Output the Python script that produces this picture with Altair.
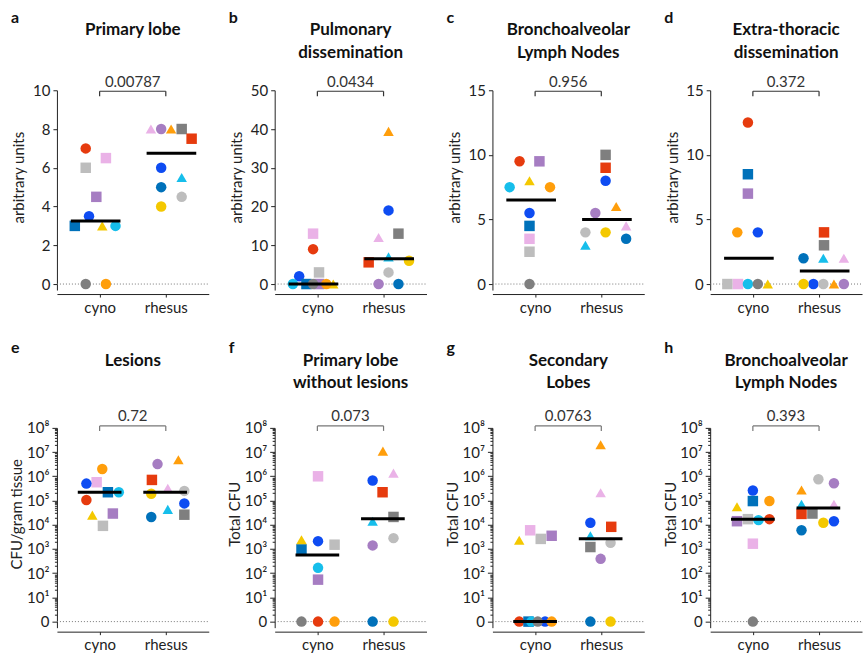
import altair as alt
import pandas as pd

FONT = "Lato"

# ---------------- animals (colour / shape) ----------------
CYNO_ANIMALS = ["red", "lgray", "pink", "purple", "blue", "dblue", "yellow", "cyan", "gray", "orange"]
CYNO_SHAPES = ["circle", "square", "square", "square", "circle", "square", "triangle-up", "circle", "circle", "circle"]
RHESUS_ANIMALS = ["pink", "purple", "orange", "gray", "red", "blue", "dblue", "cyan", "lgray", "yellow"]
RHESUS_SHAPES = ["triangle-up", "circle", "triangle-up", "square", "square", "circle", "circle", "triangle-up", "circle", "circle"]

COLOR_NAMES = ["red", "orange", "yellow", "lgray", "gray", "pink", "purple", "blue", "dblue", "cyan"]
COLOR_HEX = ["#E63B0E", "#FF9E0B", "#F4C800", "#BDBDBD", "#7F7F7F", "#EAB2E7", "#A67DC2", "#0E4CF2", "#0071BA", "#16BEEB"]

# ---------------- panel texts ----------------
PANEL_LETTERS = ["a", "b", "c", "d", "e", "f", "g", "h"]
PANEL_TITLES = [["Primary lobe"], ["Pulmonary", "dissemination"], ["Bronchoalveolar", "Lymph Nodes"],
                ["Extra-thoracic", "dissemination"], ["Lesions"], ["Primary lobe", "without lesions"],
                ["Secondary", "Lobes"], ["Bronchoalveolar", "Lymph Nodes"]]
Y_TITLES = ["arbitrary units"] * 4 + ["CFU/gram tissue", "Total CFU", "Total CFU", "Total CFU"]
P_VALUES = ["0.00787", "0.0434", "0.956", "0.372", "0.72", "0.073", "0.0763", "0.393"]
GROUP_LABELS = ["cyno", "rhesus"]
Y_MAX_TOP = [10, 50, 15, 15]
Y_TICKS_TOP = [[0, 2, 4, 6, 8, 10], [0, 10, 20, 30, 40, 50], [0, 5, 10, 15], [0, 5, 10, 15]]
LOG_TICK_LABELS = ["0", "10¹", "10²", "10³", "10⁴", "10⁵", "10⁶", "10⁷", "10⁸"]

# ---------------- values (cyno order / rhesus order as above) ----------------
A_CYNO_VAL = [7, 6, 6.5, 4.5, 3.5, 3, 3, 3, 0, 0]
A_CYNO_OFF = [-0.21, -0.21, 0.095, -0.05, -0.16, -0.375, 0.04, 0.24, -0.21, 0.095]
A_RHESUS_VAL = [8, 8, 8, 8, 7.5, 6, 5, 5.5, 4.5, 4]
A_RHESUS_OFF = [-0.225, -0.07, 0.08, 0.24, 0.39, -0.07, -0.07, 0.24, 0.24, -0.07]

B_CYNO_VAL = [9, 3, 13, 0, 2, 0, 0, 0, 0, 0]
B_CYNO_OFF = [-0.065, 0.025, -0.065, 0.025, -0.275, -0.165, 0.24, -0.37, -0.065, 0.135]
B_RHESUS_VAL = [12, 0, 39.4, 13, 5.6, 19, 0, 7, 3, 6]
B_RHESUS_OFF = [-0.075, -0.075, 0.075, 0.225, -0.225, 0.075, 0.225, 0.075, 0.075, 0.385]

C_CYNO_VAL = [9.5, 2.5, 3.5, 9.5, 5.5, 4.5, 8, 7.5, 0, 7.5]
C_CYNO_OFF = [-0.235, -0.085, -0.085, 0.065, -0.085, -0.085, -0.085, -0.385, -0.085, 0.225]
C_RHESUS_VAL = [4.5, 5.5, 6, 10, 9, 8, 3.5, 3, 4, 4]
C_RHESUS_OFF = [0.375, -0.09, 0.225, 0.065, 0.065, 0.065, 0.375, -0.24, -0.24, 0.065]

D_CYNO_VAL = [12.5, 0, 0, 7, 4, 8.5, 0, 0, 0, 4]
D_CYNO_OFF = [-0.075, -0.385, -0.225, -0.075, 0.075, -0.075, 0.225, -0.075, 0.075, -0.235]
D_RHESUS_VAL = [2, 0, 0, 3, 4, 0, 2, 2, 0, 0]
D_RHESUS_OFF = [0.375, 0.375, 0.225, 0.075, 0.075, -0.085, -0.235, 0.065, 0.065, -0.235]

E_CYNO_VAL = [1.05e5, 9e3, 5.7e5, 2.9e4, 5e5, 2.2e5, 2.5e4, 2.2e5, None, 2e6]
E_CYNO_OFF = [-0.2, 0.05, -0.045, 0.2, -0.2, 0.125, -0.11, 0.29, 0.0, 0.04]
E_RHESUS_VAL = [3.2e5, 3.2e6, 4.8e6, 2.6e4, 7.1e5, 7.6e4, 2.1e4, 4.3e4, 2.5e5, 1.9e5]
E_RHESUS_OFF = [0.03, -0.125, 0.19, 0.28, -0.21, 0.28, -0.22, 0.03, 0.28, -0.22]

F_CYNO_VAL = [0, 1.5e3, 1e6, 54, 2.1e3, 960, 2.4e3, 166, 0, 0]
F_CYNO_OFF = [0.01, 0.26, 0.01, 0.01, 0.01, -0.24, -0.24, 0.01, -0.24, 0.26]
F_RHESUS_VAL = [1.35e6, 1.4e3, 1.1e7, 2.1e4, 2.2e5, 6.7e5, 0, 1.4e4, 2.8e3, 0]
F_RHESUS_OFF = [0.15, -0.165, -0.01, 0.15, -0.015, -0.165, -0.165, -0.165, 0.15, 0.15]

G_CYNO_VAL = [0, 2.6e3, 5.9e3, 3.5e3, 0, 0, 2.3e3, 0, 0, 0]
G_CYNO_OFF = [-0.24, 0.085, -0.075, 0.25, 0.15, -0.1, -0.24, -0.055, 0.04, 0.25]
G_RHESUS_VAL = [2.1e5, 390, 2e7, 1.2e3, 8.2e3, 1.2e4, 0, 3.5e3, 1.8e3, 0]
G_RHESUS_OFF = [-0.01, -0.01, -0.01, -0.165, 0.15, -0.165, -0.165, -0.165, 0.14, 0.14]

H_CYNO_VAL = [1.7e4, 1.7e4, 1.65e3, 1.4e4, 2.6e5, 9.5e4, 5.5e4, 1.55e4, 0, 9.5e4]
H_CYNO_OFF = [0.25, -0.075, 0.0, -0.24, 0.0, 0.0, -0.24, 0.085, 0.0, 0.25]
H_RHESUS_VAL = [7e4, 5.2e5, 2.7e5, 2.9e4, 2.8e4, 1.4e4, 5.9e3, 7e4, 7.6e5, 1.2e4]
H_RHESUS_OFF = [0.225, 0.225, -0.265, -0.1, -0.265, 0.225, -0.265, -0.265, -0.01, 0.065]

PANELS = [
    (A_CYNO_VAL, A_CYNO_OFF, A_RHESUS_VAL, A_RHESUS_OFF),
    (B_CYNO_VAL, B_CYNO_OFF, B_RHESUS_VAL, B_RHESUS_OFF),
    (C_CYNO_VAL, C_CYNO_OFF, C_RHESUS_VAL, C_RHESUS_OFF),
    (D_CYNO_VAL, D_CYNO_OFF, D_RHESUS_VAL, D_RHESUS_OFF),
    (E_CYNO_VAL, E_CYNO_OFF, E_RHESUS_VAL, E_RHESUS_OFF),
    (F_CYNO_VAL, F_CYNO_OFF, F_RHESUS_VAL, F_RHESUS_OFF),
    (G_CYNO_VAL, G_CYNO_OFF, G_RHESUS_VAL, G_RHESUS_OFF),
    (H_CYNO_VAL, H_CYNO_OFF, H_RHESUS_VAL, H_RHESUS_OFF),
]

# ---------------- layout ----------------
W, H = 152, 200
HSPACE, VSPACE = 66, 138
X_DOMAIN = [0.355, 2.649]
AX = "#222222"


def panel_df(vals):
    cv, co, rv, ro = vals
    rows = []
    for a, s, v, o in zip(CYNO_ANIMALS, CYNO_SHAPES, cv, co):
        if v is not None:
            rows.append({"grp": 1, "animal": a, "shape": s, "value": v, "off": o})
    for a, s, v, o in zip(RHESUS_ANIMALS, RHESUS_SHAPES, rv, ro):
        if v is not None:
            rows.append({"grp": 2, "animal": a, "shape": s, "value": v, "off": o})
    return pd.DataFrame(rows)


def make_panel(i):
    is_log = i >= 4
    df = panel_df(PANELS[i])
    xscale = alt.Scale(domain=X_DOMAIN, nice=False, zero=False)
    xaxis = alt.Axis(values=[1, 2], labelExpr=f"datum.value == 1 ? '{GROUP_LABELS[0]}' : '{GROUP_LABELS[1]}'",
                     title=None, offset=4, tickSize=3, domainColor=AX, tickColor=AX, labelColor=AX,
                     labelFontSize=15, labelPadding=3, grid=False, labelFont=FONT)
    if is_log:
        yscale = alt.Scale(type="log", domain=[10 ** -0.25, 1e8], nice=False)
        majors = [10 ** k for k in range(0, 9)]
        minors = [m * 10 ** k for k in range(0, 8) for m in range(2, 10)]
        expr = " : ".join(f"datum.value == {v} ? '{lab}'" for v, lab in zip(majors, LOG_TICK_LABELS)) + " : ''"
        test = "indexof([" + ",".join(str(v) for v in majors) + "], datum.value) >= 0"
        yaxis = alt.Axis(values=majors + minors, labelExpr=expr, labelOverlap=False,
                         tickSize={"condition": {"test": test, "value": 5}, "value": 2.5},
                         title=Y_TITLES[i], titleX=-40, titleY=86, titleAngle=270, titleAlign="center",
                         titleBaseline="middle", titleFontSize=15, titleFontWeight="normal", titleColor=AX,
                         titleFont=FONT, labelFontSize=15, labelPadding=3, labelColor=AX, labelFont=FONT,
                         grid=False, domainColor=AX, tickColor=AX)
        yexpr = "max(datum.value, 1)"
        zero_val = 1
        c_shift, r_shift, half = 0.0, -0.01, 0.33
        br_y, tx_y = -2, -7
        br_col = "#777777"
        let_y, t1_y, t2_y = -75, -62, -40
    else:
        ymax = Y_MAX_TOP[i]
        yscale = alt.Scale(domain=[-0.031 * ymax, ymax], nice=False, zero=False)
        yaxis = alt.Axis(values=Y_TICKS_TOP[i], tickSize=4,
                         title=Y_TITLES[i], titleX=-38, titleY=87, titleAngle=270, titleAlign="center",
                         titleBaseline="middle", titleFontSize=15, titleFontWeight="normal", titleColor=AX,
                         titleFont=FONT, labelFontSize=15, labelPadding=3, labelColor=AX, labelFont=FONT,
                         grid=False, domainColor=AX, tickColor=AX)
        yexpr = "datum.value"
        zero_val = 0
        c_shift, r_shift, half = -0.06, 0.085, 0.375
        br_y, tx_y = 1, -3
        br_col = "#333333"
        let_y, t1_y, t2_y = -67, -55, -32

    base = alt.Chart(df)

    zero = alt.Chart(pd.DataFrame({"z": [zero_val]})).mark_rule(
        color="#777777", strokeDash=[1, 2], strokeWidth=1
    ).encode(y=alt.Y("z:Q", scale=yscale, axis=yaxis), x=alt.value(0), x2=alt.value(W))

    pts = base.transform_calculate(
        xpos="datum.grp + datum.off", ypos=yexpr
    ).mark_point(filled=True, opacity=1, size=110, strokeWidth=0).encode(
        x=alt.X("xpos:Q", scale=xscale, axis=xaxis),
        y=alt.Y("ypos:Q", scale=yscale, axis=yaxis),
        color=alt.Color("animal:N", scale=alt.Scale(domain=COLOR_NAMES, range=COLOR_HEX), legend=None),
        shape=alt.Shape("shape:N", scale=None),
    )

    med = base.transform_aggregate(
        med="median(value)", groupby=["grp"]
    ).transform_calculate(
        mx1=f"datum.grp + (datum.grp == 1 ? {c_shift} : {r_shift}) - {half}",
        mx2=f"datum.grp + (datum.grp == 1 ? {c_shift} : {r_shift}) + {half}",
        my="max(datum.med, 1)" if is_log else "datum.med",
    ).mark_rule(color="black", strokeWidth=3).encode(
        x=alt.X("mx1:Q", scale=xscale, axis=xaxis), x2="mx2:Q",
        y=alt.Y("my:Q", scale=yscale, axis=yaxis),
    )

    br_df = pd.DataFrame({"bx1": [1], "bx2": [2], "bxm": [1.5]})
    br_h = alt.Chart(br_df).mark_rule(color=br_col, strokeWidth=1.2).encode(
        x=alt.X("bx1:Q", scale=xscale, axis=xaxis), x2="bx2:Q", y=alt.value(br_y))
    br_v = alt.Chart(pd.DataFrame({"bx": [1, 2]})).mark_rule(color=br_col, strokeWidth=1.2).encode(
        x=alt.X("bx:Q", scale=xscale, axis=xaxis), y=alt.value(br_y), y2=alt.value(br_y + 5))
    ptxt = alt.Chart(br_df).mark_text(
        font=FONT, fontSize=15, color="#333333", baseline="alphabetic", align="center"
    ).encode(x=alt.X("bxm:Q", scale=xscale, axis=xaxis), y=alt.value(tx_y), text=alt.value(P_VALUES[i]))

    one = pd.DataFrame({"k": [0]})
    letter = alt.Chart(one).mark_text(
        font=FONT, fontSize=16, fontWeight="bold", color="#111111", align="left", baseline="alphabetic"
    ).encode(x=alt.value(-46), y=alt.value(let_y), text=alt.value(PANEL_LETTERS[i]))

    layers = [zero, pts, med, br_h, br_v, ptxt, letter]
    for j, line in enumerate(PANEL_TITLES[i]):
        layers.append(alt.Chart(one).mark_text(
            font=FONT, fontSize=17, fontWeight="bold", color="#111111", align="center", baseline="alphabetic"
        ).encode(x=alt.value(W / 2), y=alt.value(t1_y if j == 0 else t2_y), text=alt.value(line)))

    if i == 0:
        # invisible anchor fixing the page origin
        layers.append(alt.Chart(one).mark_rule(strokeOpacity=0, strokeWidth=0).encode(
            x=alt.value(-57), x2=alt.value(-57), y=alt.value(-90), y2=alt.value(-90)))

    return alt.layer(*layers).properties(width=W, height=H)


chart = alt.concat(
    *[make_panel(i) for i in range(8)], columns=4,
    spacing={"row": VSPACE, "column": HSPACE}, bounds="flush"
).properties(padding=0).configure(font=FONT).configure_view(stroke=None)

chart.save("out.html", embed_options={"renderer": "svg", "actions": False})
